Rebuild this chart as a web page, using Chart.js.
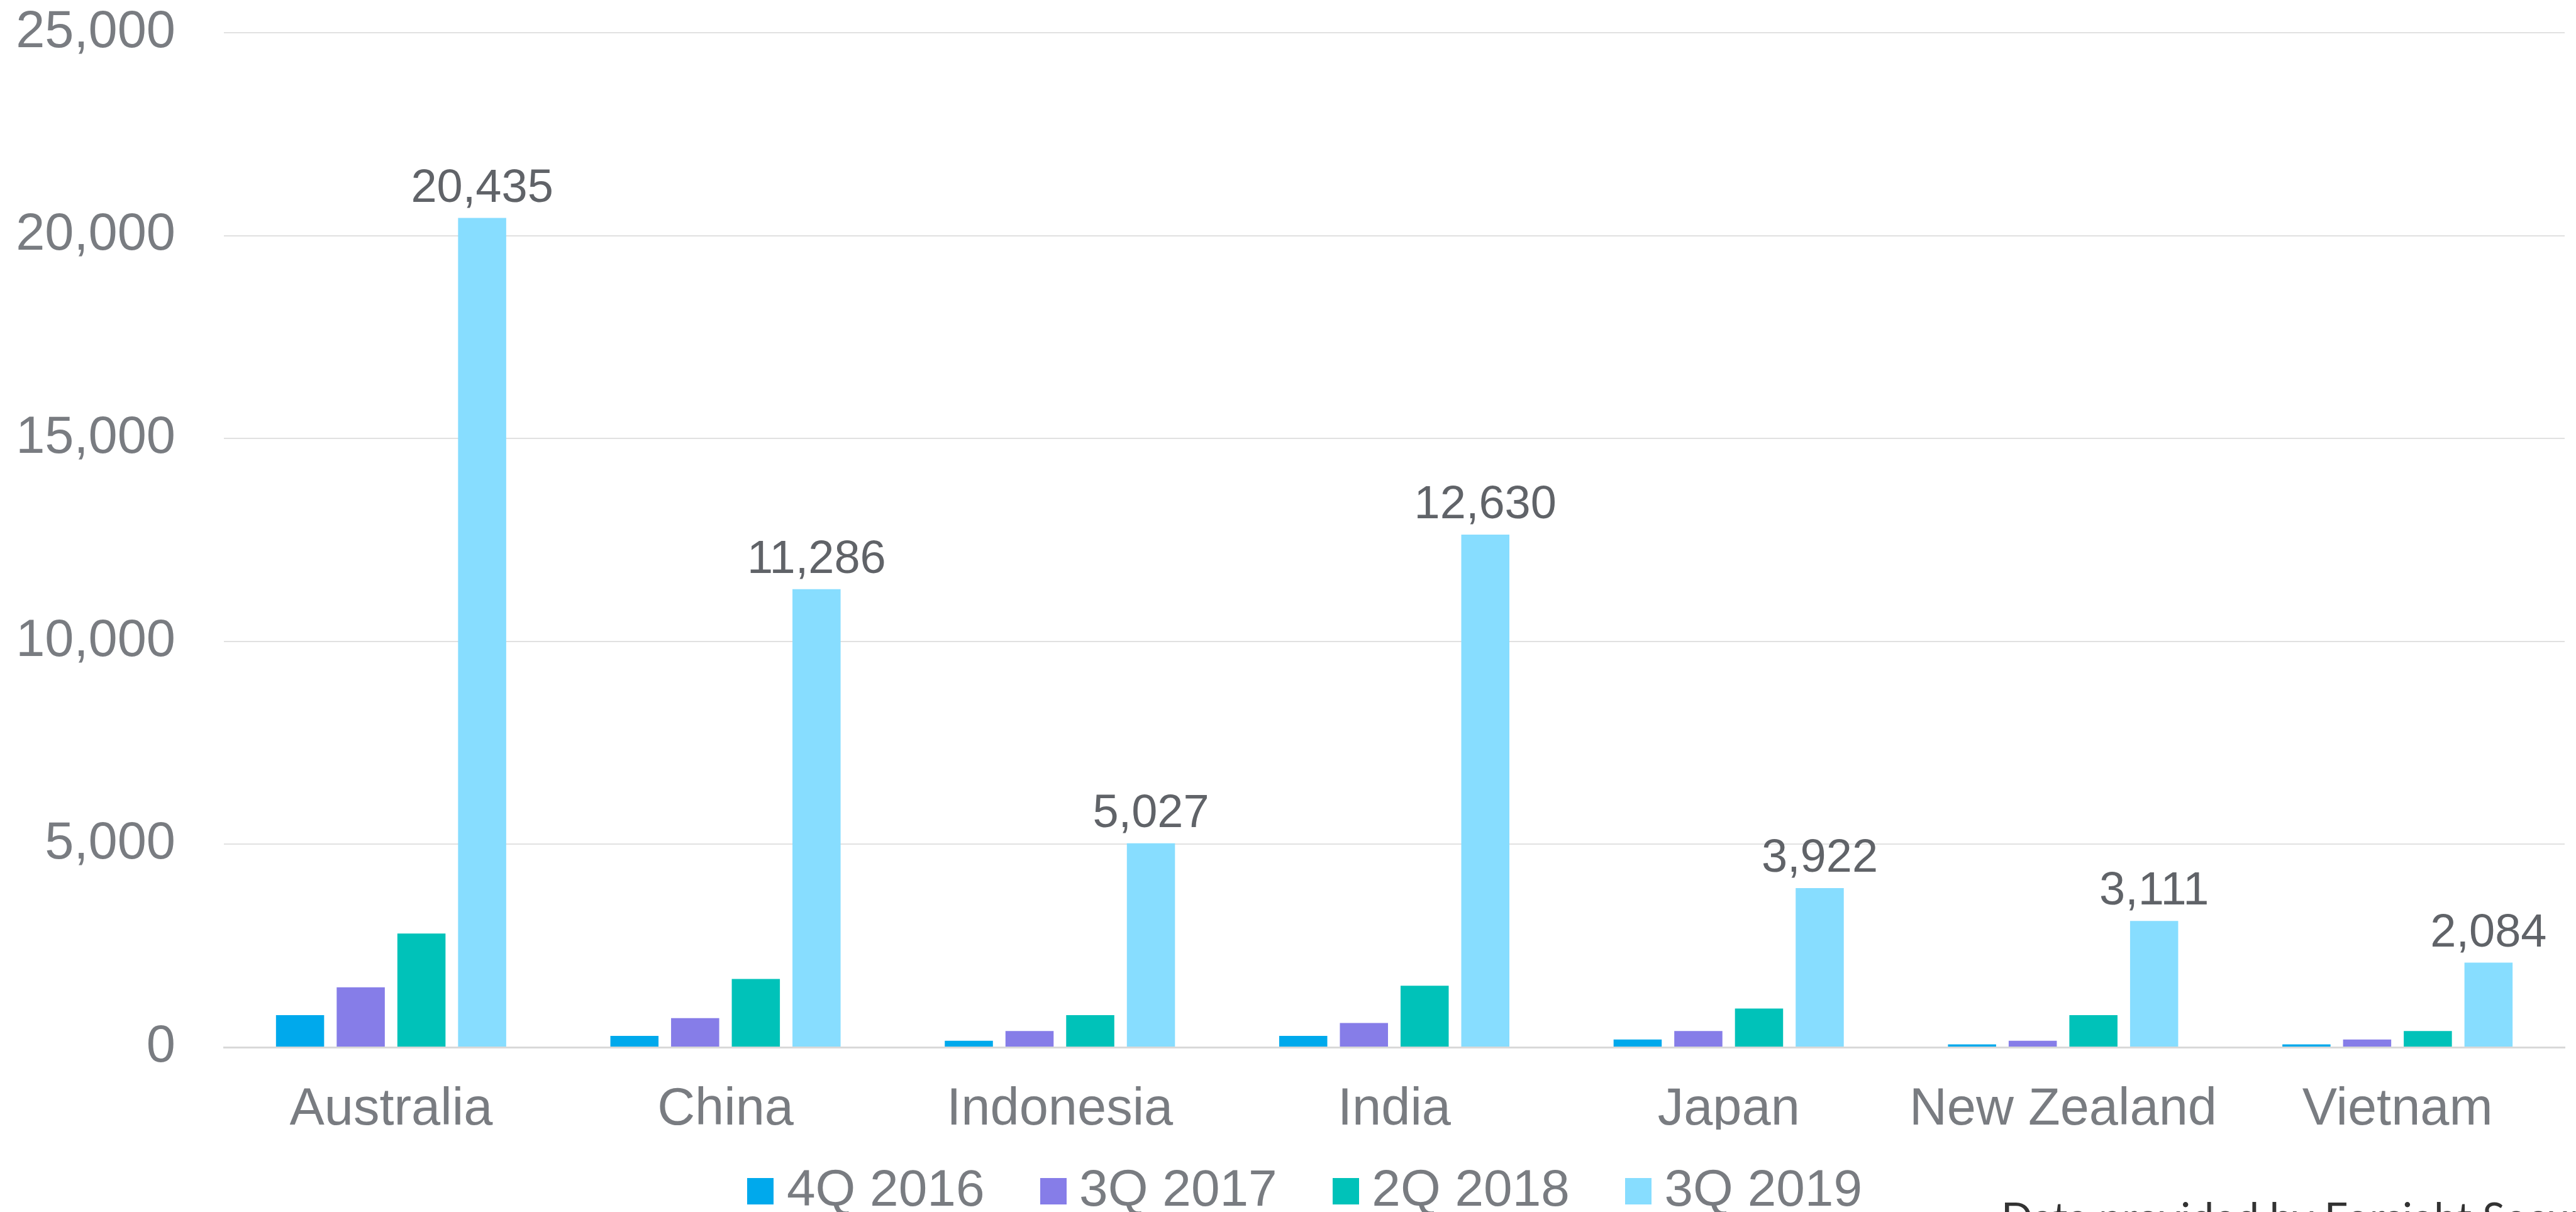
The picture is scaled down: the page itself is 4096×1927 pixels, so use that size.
<!DOCTYPE html>
<html>
<head>
<meta charset="utf-8">
<title>Bar chart by country</title>
<script src="https://cdn.jsdelivr.net/npm/chart.js@4.4.1/dist/chart.umd.min.js"></script>
<style>
    html, body { margin: 0; padding: 0; background: #ffffff; overflow: hidden; }
    #grafico { display: block; }
</style>
</head>
<body>
<canvas id="grafico" width="4096" height="1927"></canvas>
<script>
// Dados do gráfico
const paises = ['Australia', 'China', 'Indonesia', 'India', 'Japan', 'New Zealand', 'Vietnam'];
const series = ['4Q 2016', '3Q 2017', '2Q 2018', '3Q 2019'];
const valores4Q2016 = [790, 280, 160, 280, 190, 70, 70];
const valores3Q2017 = [1475, 715, 400, 595, 400, 160, 190];
const valores2Q2018 = [2800, 1680, 790, 1515, 955, 790, 400];
const valores3Q2019 = [20435, 11286, 5027, 12630, 3922, 3111, 2084];
const ticksY = [0, 5000, 10000, 15000, 20000, 25000];
const fonte = "'Liberation Sans', Arial, sans-serif";

const cores = ['#00a9ec', '#867de8', '#00c2b9', '#87ddff'];
const cinza = '#797c81';

// Legenda: espaçamento entre itens e deslocamento do bloco
const LEGENDA_PADDING = 108.6;
const LEGENDA_ALTURA = 131;
const LEGENDA_DX = 46;
const LEGENDA_DY = -51.6;

// Quadradinho colorido usado como símbolo da legenda
function quadrado(cor) {
    const c = document.createElement('canvas');
    c.width = 42;
    c.height = 42;
    const g = c.getContext('2d');
    g.fillStyle = cor;
    g.fillRect(0, 0, 42, 42);
    return c;
}

// Rótulos de valor só na última série
const rotulosPlugin = {
    id: 'rotulos',
    afterDatasetsDraw(chart) {
        const ctx = chart.ctx;
        const meta = chart.getDatasetMeta(3);
        ctx.save();
        ctx.font = '74px ' + fonte;
        ctx.fillStyle = '#606368';
        ctx.textAlign = 'center';
        ctx.textBaseline = 'alphabetic';
        meta.data.forEach((barra, i) => {
            const texto = valores3Q2019[i].toLocaleString('en-US');
            ctx.fillText(texto, barra.x, barra.y - 26);
        });
        ctx.restore();
    }
};

// Ajusta altura e posição da legenda
const legendaPlugin = {
    id: 'ajusteLegenda',
    beforeLayout(chart) {
        const leg = chart.legend;
        if (!leg || leg._ajustada) return;
        const fitOriginal = leg.fit.bind(leg);
        leg.fit = function () {
            fitOriginal();
            this.height = LEGENDA_ALTURA;
        };
        const drawOriginal = leg.draw.bind(leg);
        leg.draw = function (area) {
            const { left, right, top } = this;
            this.left = left + LEGENDA_DX;
            this.right = right + LEGENDA_DX;
            this.top = top + LEGENDA_DY;
            drawOriginal(area);
            this.left = left;
            this.right = right;
            this.top = top;
        };
        leg._ajustada = true;
    }
};

// Nota de fonte no canto inferior direito
const notaPlugin = {
    id: 'nota',
    afterDraw(chart) {
        const ctx = chart.ctx;
        ctx.save();
        ctx.font = '66px Lato, sans-serif';
        ctx.fillStyle = '#333333';
        ctx.textAlign = 'left';
        ctx.textBaseline = 'alphabetic';
        ctx.fillText('Data provided by Forsight Security', 3182, 1959);
        ctx.restore();
    }
};

const ctx = document.getElementById('grafico').getContext('2d');
const grafico = new Chart(ctx, {
    type: 'bar',
    data: {
        labels: paises,
        datasets: [
            { label: series[0], data: valores4Q2016, backgroundColor: cores[0] },
            { label: series[1], data: valores3Q2017, backgroundColor: cores[1] },
            { label: series[2], data: valores2Q2018, backgroundColor: cores[2] },
            { label: series[3], data: valores3Q2019, backgroundColor: cores[3] }
        ]
    },
    options: {
        responsive: false,
        animation: false,
        devicePixelRatio: 1,
        categoryPercentage: 0.726,
        barPercentage: 0.793,
        layout: {
            padding: { left: 0, right: 18, top: 52, bottom: 0 }
        },
        plugins: {
            tooltip: { enabled: false },
            legend: {
                position: 'bottom',
                labels: {
                    usePointStyle: true,
                    boxWidth: 1,
                    boxHeight: 42,
                    padding: LEGENDA_PADDING,
                    color: cinza,
                    font: { family: fonte, size: 82 },
                    generateLabels(chart) {
                        const itens = Chart.defaults.plugins.legend.labels.generateLabels(chart);
                        itens.forEach((item, i) => { item.pointStyle = quadrado(cores[i]); });
                        return itens;
                    }
                }
            }
        },
        scales: {
            x: {
                grid: { display: false, drawTicks: false },
                border: { display: true, color: '#d9d9d9', width: 3 },
                ticks: {
                    color: cinza,
                    padding: 50,
                    font: { family: fonte, size: 83 }
                },
                afterFit(scale) { scale.height = 131; }
            },
            y: {
                min: 0,
                max: 25000,
                afterBuildTicks(scale) {
                    scale.ticks = ticksY.map(v => ({ value: v }));
                },
                grid: { color: '#e1e1e1', lineWidth: 2, drawTicks: false },
                border: { display: false },
                ticks: {
                    color: cinza,
                    padding: 77,
                    font: { family: fonte, size: 83 },
                    callback: (v) => v.toLocaleString('en-US')
                },
                afterFit(scale) {
                    scale.width = 356;
                    scale.paddingTop = 0;
                    scale.paddingBottom = 0;
                }
            }
        }
    },
    plugins: [rotulosPlugin, legendaPlugin, notaPlugin]
});
</script>
</body>
</html>
